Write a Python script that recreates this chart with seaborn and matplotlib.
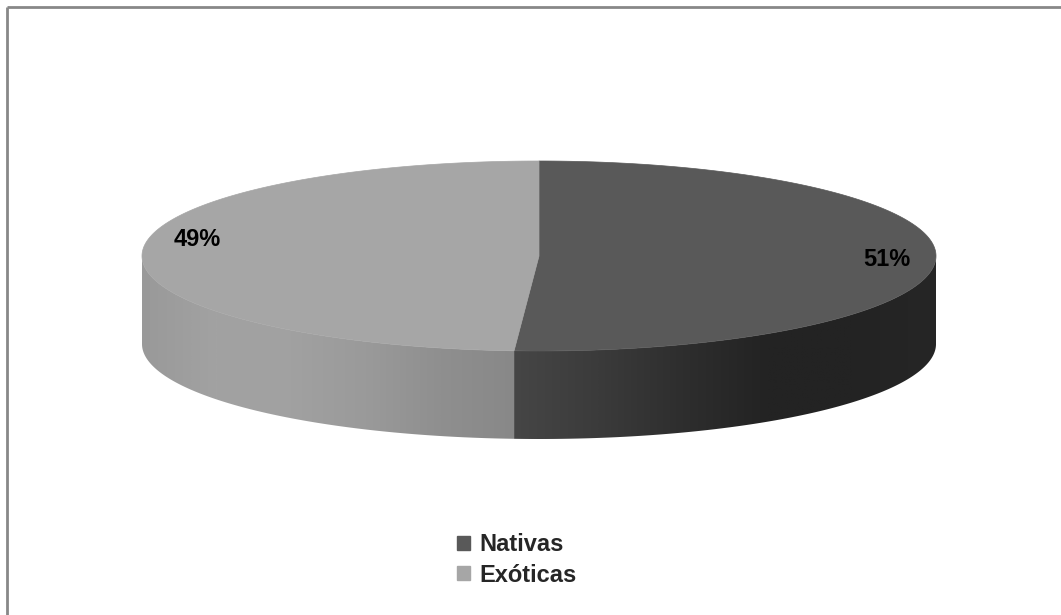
import numpy as np
import matplotlib
matplotlib.use("Agg")
import matplotlib.pyplot as plt
from matplotlib.patches import Polygon, Patch
import seaborn as sns

# ---- data ----
categories = ["Nativas", "Exóticas"]
values = [51, 49]
labels = ["51%", "49%"]
top_colors = ["#595959", "#a6a6a6"]
side_stops = [["#464646", "#3b3b3b", "#2e2e2e", "#232323", "#232323", "#262626"],
              ["#999999", "#a2a2a2", "#a1a1a1", "#9a9a9a", "#8f8f8f", "#888888"]]

sns.set_theme(style="white")
plt.rcParams["font.family"] = ["Liberation Sans", "DejaVu Sans"]

W, H = 1061, 615
fig = plt.figure(figsize=(W / 100, H / 100), dpi=100)
ax = fig.add_axes([0, 0, 1, 1])
ax.set_xlim(0, W)
ax.set_ylim(H, 0)
ax.axis("off")

# geometry (layout)
cx, cy, a, b, depth = 539, 256, 397, 95, 88
label_r = [0.877, 0.86]
label_dy = [3, -17]

def pt(theta_deg, dy=0.0):
    t = np.radians(theta_deg)
    return cx + a * np.sin(t), cy - b * np.cos(t) + dy

total = float(sum(values))
bounds = np.concatenate([[0], np.cumsum(values) / total * 360.0])

# side faces (front half: 90..270 deg) with horizontal gradient
for i in range(len(values)):
    s, e = max(bounds[i], 90), min(bounds[i + 1], 270)
    if e <= s:
        continue
    th = np.linspace(s, e, 400)
    top = [pt(t) for t in th]
    bot = [pt(t, depth) for t in th[::-1]]
    side = Polygon(top + bot, closed=True, facecolor="none", edgecolor="none")
    ax.add_patch(side)
    xs = [p[0] for p in top]
    xmin, xmax = min(xs), max(xs)
    pal = sns.blend_palette(side_stops[i], n_colors=256, as_cmap=True)
    grad = np.linspace(0, 1, 512)[None, :]
    ymin = min(p[1] for p in top) - 2
    ymax = max(p[1] for p in bot) + 2
    im = ax.imshow(grad, cmap=pal, aspect="auto", interpolation="bilinear",
                   extent=(xmin - 1, xmax + 1, ymax, ymin), zorder=1)
    im.set_clip_path(side)

ax.set_xlim(0, W)
ax.set_ylim(H, 0)

# top faces
for i in range(len(values)):
    th = np.linspace(bounds[i], bounds[i + 1], 400)
    pts = [(cx, cy)] + [pt(t) for t in th]
    ax.add_patch(Polygon(pts, closed=True, facecolor=top_colors[i],
                         edgecolor=top_colors[i], linewidth=0.5, zorder=2))

# percentage labels
for i in range(len(values)):
    mid = np.radians((bounds[i] + bounds[i + 1]) / 2)
    lx = cx + label_r[i] * a * np.sin(mid)
    ly = cy + label_dy[i]
    ax.text(lx, ly, labels[i], ha="center", va="center", fontsize=17,
            fontweight="bold", color="black", zorder=3)

# frame lines (left & top)
ax.plot([7, 7], [H, 7], color="#888888", lw=2, solid_capstyle="butt")
ax.plot([7, W], [7, 7], color="#888888", lw=2, solid_capstyle="butt")

handles = [Patch(facecolor=c, edgecolor=c) for c in top_colors]
leg = fig.legend(handles, categories, loc="center left",
                 bbox_to_anchor=(445 / W, 1 - 560 / H), frameon=False,
                 fontsize=17, handlelength=0.55, handleheight=0.55,
                 handletextpad=0.4, labelspacing=0.3, borderpad=0)
for t in leg.get_texts():
    t.set_fontweight("bold")

fig.savefig("out.png", dpi=100, facecolor="white")
